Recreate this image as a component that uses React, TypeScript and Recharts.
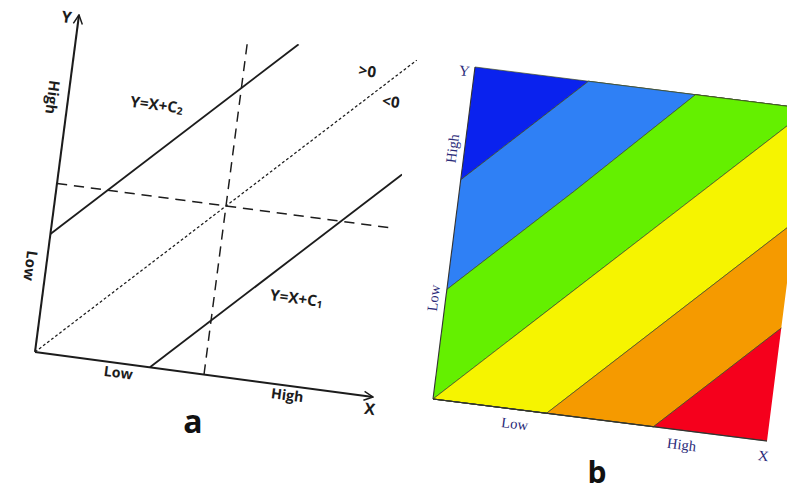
import React from "react";
import {
  Area,
  AreaChart,
  Line,
  LineChart,
  ReferenceDot,
  XAxis,
  YAxis
} from "recharts";

// panel a: the straight lines (0..10 on both axes)
const upperLine = [
  { x: 0, y: 3.5 },
  { x: 6.5, y: 10 }
];
const lowerLine = [
  { x: 3.4, y: 0 },
  { x: 10, y: 6.6 }
];
const zeroLine = [
  { x: 0, y: 0 },
  { x: 10, y: 10 }
];
const vDashed = [
  { x: 5, y: 0 },
  { x: 5, y: 10 }
];
const hDashed = [
  { x: 0, y: 5 },
  { x: 9.9, y: 5 }
];
const tickValuesA = [2.5, 7.5];
const tickLabels = ["Low", "High"];

const notesA = [
  { x: 2.6, y: 7.7, text: "Y=X+C", sub: "2" },
  { x: 7.4, y: 2.6, text: "Y=X+C", sub: "1" },
  { x: 8.6, y: 9.5, text: ">0" },
  { x: 9.4, y: 8.7, text: "<0" },
  { x: -0.35, y: 9.9, text: "Y" },
  { x: 9.95, y: -0.35, text: "X" }
];

// panel b: contour boundaries sampled where they kink (0..1 on both axes)
const bandX = [0, 0.34, 0.66, 1];
const edge1 = [0.66, 1, 1, 1];
const edge2 = [0.33, 0.67, 1, 1];
const edge3 = [0, 0.34, 0.66, 1];
const edge4 = [0, 0, 0.32, 0.66];
const edge5 = [0, 0, 0, 0.34];
const bandNames = ["blue", "sky", "green", "yellow", "orange", "red"];
const bandColors = ["#0a22ee", "#2f80f5", "#64f000", "#f6f400", "#f59a00", "#f5001c"];
const tickValuesB = [0.25, 0.75];
const tickValuesBY = [0.3, 0.75];

const bandRows = bandX.map((x, i) => ({
  x,
  blue: [edge1[i], 1],
  sky: [edge2[i], edge1[i]],
  green: [edge3[i], edge2[i]],
  yellow: [edge4[i], edge3[i]],
  orange: [edge5[i], edge4[i]],
  red: [0, edge5[i]]
}));

type Pt = { x: number; y: number };

// affine map from chart pixels to the page, so the plot box lands on the
// slanted frame seen in the photo
function frame(o: Pt, u: Pt, v: Pt, left: number, bottom: number, w: number, h: number) {
  const a = u.x / w;
  const b = u.y / w;
  const c = -v.x / h;
  const d = -v.y / h;
  const e = o.x - (left / w) * u.x + (bottom / h) * v.x;
  const f = o.y - (left / w) * u.y + (bottom / h) * v.y;
  return `matrix(${a},${b},${c},${d},${e},${f})`;
}

const sans = "'Open Sans', 'Liberation Sans', sans-serif";
const serif = "'Liberation Serif', 'DejaVu Serif', serif";
const ink = "#1c1c1c";
const navy = "#2a2a78";

function NoteA(props: any) {
  const { cx, cy, note } = props;
  return (
    <text
      x={cx}
      y={cy}
      textAnchor="middle"
      dominantBaseline="central"
      fontFamily={sans}
      fontWeight={700}
      fontSize={note.text.length === 1 ? 14 : 13.5}
      fill={ink}
    >
      {note.text}
      {note.sub ? (
        <tspan fontSize={9} dy={3}>
          {note.sub}
        </tspan>
      ) : null}
    </text>
  );
}

function YTickA(props: any) {
  const { x, y, payload } = props;
  const label = tickLabels[tickValuesA.indexOf(payload.value)];
  return (
    <text
      x={x - 5}
      y={y}
      transform={`rotate(90, ${x - 5}, ${y})`}
      textAnchor="middle"
      dominantBaseline="central"
      fontFamily={sans}
      fontWeight={700}
      fontSize={13}
      fill={ink}
    >
      {label}
    </text>
  );
}

function YTickB(props: any) {
  const { x, y, payload } = props;
  const label = tickLabels[tickValuesBY.indexOf(payload.value)];
  return (
    <text
      x={x - 9}
      y={y}
      transform={`rotate(-90, ${x - 9}, ${y})`}
      textAnchor="middle"
      dominantBaseline="central"
      fontFamily={serif}
      fontSize={13}
      fill={navy}
    >
      {label}
    </text>
  );
}

const lineStyle = { stroke: ink, dot: false, isAnimationActive: false } as const;

export default function App() {
  const A_W = 360;
  const A_H = 350;
  const matA = frame({ x: 35, y: 352 }, { x: 338, y: 45 }, { x: 44, y: -337 }, 30, 320, 300, 300);

  const B_W = 340;
  const B_H = 340;
  const matB = frame({ x: 433, y: 399 }, { x: 334, y: 42 }, { x: 42, y: -332 }, 30, 310, 300, 300);

  return (
    <div
      style={{
        position: "absolute",
        left: 0,
        top: 0,
        width: 787,
        height: 491,
        overflow: "hidden",
        background: "#ffffff"
      }}
    >
      <div style={{ position: "absolute", left: 0, top: 0, transformOrigin: "0 0", transform: matA }}>
        <LineChart width={A_W} height={A_H} margin={{ top: 20, right: 30, left: 0, bottom: 0 }}>
          <defs>
            <marker
              id="arrowA"
              viewBox="0 0 10 10"
              refX="9"
              refY="5"
              markerWidth="10"
              markerHeight="10"
              markerUnits="userSpaceOnUse"
              orient="auto-start-reverse"
            >
              <path d="M1,1 L9,5 L1,9" fill="none" stroke={ink} strokeWidth={1.3} />
            </marker>
          </defs>
          <XAxis
            type="number"
            dataKey="x"
            domain={[0, 10]}
            ticks={tickValuesA}
            tickFormatter={(v: number) => tickLabels[tickValuesA.indexOf(v)]}
            tickLine={false}
            tickSize={2}
            height={30}
            axisLine={{ stroke: ink, strokeWidth: 1.8, markerEnd: "url(#arrowA)" }}
            tick={{ fontFamily: sans, fontWeight: 700, fontSize: 12.5, fill: ink }}
            allowDataOverflow
          />
          <YAxis
            type="number"
            dataKey="y"
            domain={[0, 10]}
            ticks={tickValuesA}
            tickLine={false}
            width={30}
            axisLine={{ stroke: ink, strokeWidth: 1.8, markerStart: "url(#arrowA)" }}
            tick={<YTickA />}
            allowDataOverflow
          />
          <Line data={zeroLine} dataKey="y" {...lineStyle} strokeWidth={1.1} strokeDasharray="2.5 2" />
          <Line data={vDashed} dataKey="y" {...lineStyle} strokeWidth={1.3} strokeDasharray="9 6" />
          <Line data={hDashed} dataKey="y" {...lineStyle} strokeWidth={1.3} strokeDasharray="9 6" />
          <Line data={upperLine} dataKey="y" {...lineStyle} strokeWidth={1.6} />
          <Line data={lowerLine} dataKey="y" {...lineStyle} strokeWidth={1.6} />
          {notesA.map((n) => (
            <ReferenceDot
              key={n.text + n.x}
              x={n.x}
              y={n.y}
              r={0}
              ifOverflow="visible"
              shape={(p: any) => <NoteA {...p} note={n} />}
            />
          ))}
        </LineChart>
      </div>

      <div style={{ position: "absolute", left: 0, top: 0, transformOrigin: "0 0", transform: matB }}>
        <AreaChart width={B_W} height={B_H} data={bandRows} margin={{ top: 10, right: 10, left: 0, bottom: 0 }}>
          <XAxis
            type="number"
            dataKey="x"
            domain={[0, 1]}
            ticks={tickValuesB}
            tickFormatter={(v: number) => tickLabels[tickValuesB.indexOf(v)]}
            tickLine={false}
            tickSize={0}
            tickMargin={8}
            height={30}
            axisLine={{ stroke: "#333", strokeWidth: 1 }}
            tick={{ fontFamily: serif, fontSize: 13, fill: navy }}
          />
          <YAxis
            type="number"
            domain={[0, 1]}
            ticks={tickValuesBY}
            tickLine={false}
            tickSize={0}
            width={30}
            axisLine={{ stroke: "#333", strokeWidth: 1 }}
            tick={<YTickB />}
          />
          {bandNames.map((name, i) => (
            <Area
              key={name}
              type="linear"
              dataKey={name}
              fill={bandColors[i]}
              fillOpacity={1}
              stroke="#3d4a26"
              strokeWidth={0.6}
              dot={false}
              activeDot={false}
              isAnimationActive={false}
            />
          ))}
          <ReferenceDot
            x={-0.03}
            y={0.985}
            r={0}
            ifOverflow="visible"
            shape={(p: any) => (
              <text x={p.cx} y={p.cy} textAnchor="middle" dominantBaseline="central" fontFamily={serif} fontSize={13} fill={navy}>
                Y
              </text>
            )}
          />
          <ReferenceDot
            x={0.995}
            y={-0.045}
            r={0}
            ifOverflow="visible"
            shape={(p: any) => (
              <text x={p.cx} y={p.cy} textAnchor="middle" dominantBaseline="central" fontFamily={serif} fontSize={13} fill={navy}>
                X
              </text>
            )}
          />
        </AreaChart>
      </div>

      <div
        style={{
          position: "absolute",
          left: 193,
          top: 420,
          transform: "translate(-50%, -50%)",
          fontFamily: sans,
          fontWeight: 700,
          fontSize: 32,
          color: "#111"
        }}
      >
        a
      </div>
      <div
        style={{
          position: "absolute",
          left: 597,
          top: 471,
          transform: "translate(-50%, -50%)",
          fontFamily: sans,
          fontWeight: 700,
          fontSize: 30,
          color: "#111"
        }}
      >
        b
      </div>
    </div>
  );
}
